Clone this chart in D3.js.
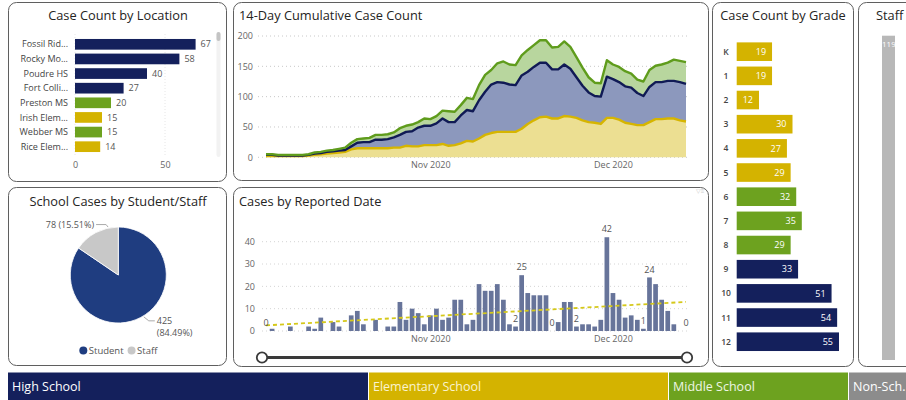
<!DOCTYPE html>
<html><head><meta charset="utf-8">
<script src="https://cdn.jsdelivr.net/npm/d3@7/dist/d3.min.js"></script>
<style>
body{margin:0;background:#fff;}
svg{display:block;font-family:"Open Sans","Noto Sans",sans-serif;}
</style></head><body>
<svg id="c" width="906" height="400"></svg>
<script>
// ---------------- DATA ----------------
const levels = ["High School", "Elementary School", "Middle School", "Non-Sch."];

const locations = ["Fossil Rid...", "Rocky Mo...", "Poudre HS", "Fort Colli...", "Preston MS", "Irish Elem...", "Webber MS", "Rice Elem..."];
const locationCounts = [67, 58, 40, 27, 20, 15, 15, 14];
const locationLevels = ["High School", "High School", "High School", "High School", "Middle School", "Elementary School", "Middle School", "Elementary School"];
const locationTicks = [0, 50];

const grades = ["K", "1", "2", "3", "4", "5", "6", "7", "8", "9", "10", "11", "12"];
const gradeCounts = [19, 19, 12, 30, 27, 29, 32, 35, 29, 33, 51, 54, 55];
const gradeLevels = ["Elementary School", "Elementary School", "Elementary School", "Elementary School", "Elementary School", "Elementary School",
  "Middle School", "Middle School", "Middle School", "High School", "High School", "High School", "High School"];

const staffTitle = "Staff";
const staffCount = 119;

const roles = ["Student", "Staff"];
const roleCounts = [425, 78];
const roleLabels = ["425|(84.49%)", "78 (15.51%)"];

const firstDay = "2020-10-05";
const dailyCases = [0, 1, 0, 0, 2, 0, 0, 2, 1, 6, 0, 4, 2, 0, 7, 9, 3, 0, 5, 0,
  2, 2, 13, 5, 10, 8, 3, 7, 10, 5, 6, 14, 14, 3, 5, 21, 18, 18, 21, 14,
  3, 2, 25, 17, 16, 16, 16, 0, 4, 13, 13, 2, 3, 3, 2, 5, 42, 17, 14, 6,
  7, 5, 1, 24, 21, 14, 9, 3, 0, 0];
const labeledDays = [0, 41, 42, 47, 51, 56, 62, 63, 69];
const dailyTicks = [0, 10, 20, 30, 40];

const cumElementary = [2, 2, 2, 2, 2, 2, 2, 3, 4, 5, 6, 7, 8, 9, 13, 15, 15, 15, 15, 15,
  15, 16, 16, 19, 18, 18, 20, 20, 20, 22, 19, 20, 23, 27, 26, 31, 37, 40, 42, 42,
  42, 42, 47, 55, 61, 66, 67, 64, 64, 68, 67, 65, 61, 58, 57, 55, 65, 65, 62, 57,
  55, 53, 53, 58, 63, 63, 64, 64, 61, 59];
const cumHigh = [2, 2, 1, 1, 1, 1, 1, 1, 2, 2, 3, 3, 3, 3, 5, 9, 10, 10, 14, 14,
  15, 17, 21, 23, 25, 31, 32, 32, 36, 42, 39, 38, 46, 51, 50, 63, 71, 80, 82, 81,
  78, 77, 88, 86, 88, 90, 89, 81, 81, 85, 79, 67, 57, 49, 44, 45, 68, 64, 62, 60,
  60, 53, 48, 58, 61, 61, 62, 62, 63, 62];
const cumMiddle = [1, 1, 1, 1, 1, 1, 1, 1, 2, 2, 2, 2, 3, 4, 6, 6, 6, 7, 8, 8,
  8, 8, 11, 10, 11, 9, 12, 11, 12, 13, 18, 17, 17, 20, 20, 25, 28, 24, 31, 35,
  33, 33, 33, 36, 36, 37, 37, 36, 37, 38, 36, 33, 30, 25, 22, 22, 27, 24, 25, 25,
  23, 22, 24, 28, 27, 29, 30, 35, 35, 36];
const cumTicks = [0, 50, 100, 150, 200];
const monthTicks = ["2020-11-01", "2020-12-01"];

// ---------------- STYLE ----------------
const levelColor = {"High School": "#14205c", "Elementary School": "#d4b300", "Middle School": "#6da21f", "Non-Sch.": "#8c8c8c"};
const svg = d3.select("#c");
const parse = d3.timeParse("%Y-%m-%d");
const days = dailyCases.map((_, i) => d3.timeDay.offset(parse(firstDay), i));
const TITLE = 12.8;

function panel(x, y, w, h) {
  svg.append("rect").attr("x", x + 0.5).attr("y", y + 0.5).attr("width", w).attr("height", h)
    .attr("rx", 8).attr("fill", "#fff").attr("stroke", "#5f5f5f").attr("stroke-width", 1);
}
function title(t, x, y, anchor) {
  svg.append("text").attr("x", x).attr("y", y).attr("text-anchor", anchor || "start")
    .attr("font-size", TITLE).attr("fill", "#252423").text(t);
}

// panels
panel(8, 2, 218, 179);
panel(233, 2, 475, 178);
panel(712, 2, 141, 364);
panel(858, 2, 60, 364);
panel(8, 187, 218, 178);
panel(233, 187, 475, 179);

// ---------------- Case Count by Location ----------------
title("Case Count by Location", 118, 20, "middle");
{
  const x = d3.scaleLinear().domain([0, 67]).range([75, 195.6]);
  const y = d3.scaleBand().domain(locations).range([37, 154]).paddingInner(0.27).paddingOuter(0.135);
  const g = svg.append("g");
  g.selectAll("line.grid").data(locationTicks).join("line")
    .attr("x1", d => x(d)).attr("x2", d => x(d)).attr("y1", 34).attr("y2", 156)
    .attr("stroke", "#e6e6e6").attr("stroke-dasharray", "1,2");
  g.selectAll("rect.bar").data(locations).join("rect")
    .attr("x", x(0)).attr("y", d => y(d)).attr("height", y.bandwidth())
    .attr("width", (d, i) => x(locationCounts[i]) - x(0))
    .attr("fill", (d, i) => levelColor[locationLevels[i]]);
  g.selectAll("text.cat").data(locations).join("text")
    .attr("x", 68).attr("y", d => y(d) + y.bandwidth() / 2).attr("dy", "0.35em")
    .attr("text-anchor", "end").attr("font-size", 9).attr("fill", "#444").text(d => d);
  g.selectAll("text.val").data(locations).join("text")
    .attr("x", (d, i) => x(locationCounts[i]) + 5).attr("y", d => y(d) + y.bandwidth() / 2).attr("dy", "0.35em")
    .attr("font-size", 9).attr("fill", "#555").text((d, i) => locationCounts[i]);
  const ax = g.append("g").attr("transform", "translate(0,162)")
    .call(d3.axisBottom(x).tickValues(locationTicks).tickSize(0).tickPadding(0));
  ax.select(".domain").remove();
  ax.selectAll("text").attr("font-size", 9).attr("fill", "#666").attr("font-family", "Open Sans");
  // scrollbar
  g.append("rect").attr("x", 216.5).attr("y", 32).attr("width", 4).attr("height", 125).attr("rx", 2).attr("fill", "#f2f2f2");
  g.append("rect").attr("x", 216.5).attr("y", 32).attr("width", 4).attr("height", 9).attr("rx", 2).attr("fill", "#c4c4c4");
}

// ---------------- 14-Day Cumulative ----------------
title("14-Day Cumulative Case Count", 239, 20);
{
  const x = d3.scaleTime().domain([days[0], days[days.length - 1]]).range([266, 686]);
  const y = d3.scaleLinear().domain([0, 200]).range([157.3, 36]);
  const g = svg.append("g");
  g.selectAll("line.grid").data(cumTicks).join("line")
    .attr("x1", 258).attr("x2", 690).attr("y1", d => y(d)).attr("y2", d => y(d))
    .attr("stroke", "#c8c8c8").attr("stroke-dasharray", "1,3");
  const ay = g.append("g").attr("transform", "translate(253,0)")
    .call(d3.axisLeft(y).tickValues(cumTicks).tickSize(0).tickPadding(0));
  ay.select(".domain").remove();
  ay.selectAll("text").attr("font-size", 9).attr("fill", "#666").attr("font-family", "Open Sans");
  const ax = g.append("g").attr("transform", "translate(0,162)")
    .call(d3.axisBottom(x).tickValues(monthTicks.map(parse)).tickFormat(d3.timeFormat("%b %Y")).tickSize(0).tickPadding(0));
  ax.select(".domain").remove();
  ax.selectAll("text").attr("font-size", 9).attr("fill", "#666").attr("font-family", "Open Sans");

  const rows = days.map((d, i) => ({date: d, elem: cumElementary[i], high: cumHigh[i], mid: cumMiddle[i]}));
  const keys = ["elem", "high", "mid"];
  const fills = {elem: "#ecdf92", high: "#8c98bd", mid: "#b8d69e"};
  const strokes = {elem: "#d6b500", high: "#101a55", mid: "#5f9c1c"};
  const series = d3.stack().keys(keys)(rows);
  const area = d3.area().x(d => x(d.data.date)).y0(d => y(d[0])).y1(d => y(d[1]));
  const line = d3.line().x(d => x(d.data.date)).y(d => y(d[1]));
  g.selectAll("path.area").data(series).join("path").attr("d", area).attr("fill", s => fills[s.key]);
  g.selectAll("path.line").data(series).join("path").attr("d", line).attr("fill", "none")
    .attr("stroke", s => strokes[s.key]).attr("stroke-width", 2.4).attr("stroke-linejoin", "round");
}

// ---------------- Case Count by Grade ----------------
title("Case Count by Grade", 783, 20, "middle");
{
  const x = d3.scaleLinear().domain([0, 55]).range([736.7, 839]);
  const y = d3.scaleBand().domain(grades).range([39.6, 353.8]).paddingInner(0.23).paddingOuter(0.115);
  const g = svg.append("g");
  g.selectAll("rect").data(grades).join("rect")
    .attr("x", x(0)).attr("y", d => y(d)).attr("height", y.bandwidth())
    .attr("width", (d, i) => x(gradeCounts[i]) - x(0))
    .attr("fill", (d, i) => levelColor[gradeLevels[i]]);
  g.selectAll("text.cat").data(grades).join("text")
    .attr("x", 726).attr("y", d => y(d) + y.bandwidth() / 2).attr("dy", "0.35em")
    .attr("text-anchor", "middle").attr("font-size", 8.5).attr("font-weight", 600).attr("fill", "#444").text(d => d);
  g.selectAll("text.val").data(grades).join("text")
    .attr("x", (d, i) => x(gradeCounts[i]) - 6).attr("y", d => y(d) + y.bandwidth() / 2).attr("dy", "0.35em")
    .attr("text-anchor", "end").attr("font-size", 9).attr("fill", "#fff").text((d, i) => gradeCounts[i]);
}

// ---------------- Staff ----------------
svg.append("text").attr("x", 876).attr("y", 20).attr("font-size", TITLE).attr("fill", "#252423").text(staffTitle);
{
  const y = d3.scaleLinear().domain([0, staffCount]).range([360, 35.7]);
  svg.append("rect").attr("x", 882).attr("y", y(staffCount)).attr("width", 13).attr("height", y(0) - y(staffCount)).attr("fill", "#b8b8b8");
  svg.append("text").attr("x", 882).attr("y", y(staffCount) + 11).attr("font-size", 8).attr("fill", "#fff").text(staffCount);
}

// ---------------- Pie ----------------
title("School Cases by Student/Staff", 118, 206, "middle");
{
  const cx = 118.3, cy = 275, r = 48;
  const pieColors = {"Student": "#1f3d80", "Staff": "#c8c8c8"};
  const arcs = d3.pie().sort(null).value(d => d.v)(roles.map((k, i) => ({k, v: roleCounts[i], lab: roleLabels[i]})));
  const arc = d3.arc().innerRadius(0).outerRadius(r);
  const g = svg.append("g").attr("transform", `translate(${cx},${cy})`);
  g.selectAll("path").data(arcs).join("path").attr("d", arc).attr("fill", d => pieColors[d.data.k])
    .attr("stroke", "#fff").attr("stroke-width", 0.8);
  arcs.forEach(a => {
    const right = (a.startAngle + a.endAngle) / 2 < Math.PI;
    const ang = right ? (a.startAngle + a.endAngle) / 2 - 0.06 : a.endAngle - 0.21;
    const p0 = [Math.sin(ang) * (r + 1), -Math.cos(ang) * (r + 1)];
    const p1 = right ? [p0[0] + 5, p0[1] + 4] : [p0[0] - 2, p0[1] - 2.5];
    const p2 = right ? [p1[0] + 6, p1[1]] : [p1[0] - 10, p1[1]];
    g.append("polyline").attr("points", [p0, p1, p2].map(p => p.join(",")).join(" "))
      .attr("fill", "none").attr("stroke", "#aaa").attr("stroke-width", 1);
    const parts = a.data.lab.split("|");
    const t = g.append("text").attr("x", right ? p2[0] + 2 : p2[0] - 2).attr("y", p2[1]).attr("dy", "0.35em")
      .attr("text-anchor", right ? "start" : "end").attr("font-size", 9).attr("fill", "#555");
    parts.forEach((p, j) => t.append("tspan").attr("x", right ? p2[0] + 2 : p2[0] - 2).attr("dy", j === 0 ? "0.35em" : "1.3em").text(p));
  });
  const lg = svg.append("g").attr("transform", "translate(0,350.5)");
  let lx = 83.3;
  roles.forEach((k, i) => {
    lg.append("circle").attr("cx", lx).attr("cy", 0).attr("r", 4).attr("fill", pieColors[k]);
    const t = lg.append("text").attr("x", lx + 5.5).attr("y", 0).attr("dy", "0.35em").attr("font-size", 9.5).attr("fill", "#555").text(k);
    lx += 5.5 + t.node().getComputedTextLength() + 8;
  });
}

// ---------------- Cases by Reported Date ----------------
title("Cases by Reported Date", 239, 206);
{
  const x = d3.scaleTime().domain([days[0], days[days.length - 1]]).range([266, 686]);
  const y = d3.scaleLinear().domain([0, 40]).range([331, 241.7]);
  const g = svg.append("g");
  g.selectAll("line.grid").data(dailyTicks).join("line")
    .attr("x1", 262).attr("x2", 690).attr("y1", d => y(d)).attr("y2", d => y(d))
    .attr("stroke", "#d4d4d4").attr("stroke-dasharray", "1,3");
  const ay = g.append("g").attr("transform", "translate(255,0)")
    .call(d3.axisLeft(y).tickValues(dailyTicks).tickSize(0).tickPadding(0));
  ay.select(".domain").remove();
  ay.selectAll("text").attr("font-size", 9).attr("fill", "#666").attr("font-family", "Open Sans");
  const ax = g.append("g").attr("transform", "translate(0,336)")
    .call(d3.axisBottom(x).tickValues(monthTicks.map(parse)).tickFormat(d3.timeFormat("%b %Y")).tickSize(0).tickPadding(0));
  ax.select(".domain").remove();
  ax.selectAll("text").attr("font-size", 9).attr("fill", "#666").attr("font-family", "Open Sans");
  const bw = 4.7;
  g.selectAll("rect").data(days).join("rect")
    .attr("x", d => x(d) - bw / 2).attr("width", bw)
    .attr("y", (d, i) => y(dailyCases[i])).attr("height", (d, i) => y(0) - y(dailyCases[i]))
    .attr("fill", "#67749a");
  // linear trend line (least squares over the daily values)
  const n = dailyCases.length, idx = d3.range(n);
  const mx = d3.mean(idx), my = d3.mean(dailyCases);
  const slope = d3.sum(idx, i => (i - mx) * (dailyCases[i] - my)) / d3.sum(idx, i => (i - mx) ** 2);
  const icpt = my - slope * mx;
  g.append("line").attr("x1", x(days[0])).attr("x2", x(days[n - 1]))
    .attr("y1", y(icpt)).attr("y2", y(icpt + slope * (n - 1)))
    .attr("stroke", "#d5c81a").attr("stroke-width", 1.8).attr("stroke-dasharray", "4,3");
  g.selectAll("text.lab").data(labeledDays).join("text")
    .attr("x", i => x(days[i])).attr("y", i => y(dailyCases[i]) - 8).attr("dy", "0.35em")
    .attr("text-anchor", "middle").attr("font-size", 9).attr("fill", "#555").text(i => dailyCases[i]);
  // range slider
  g.append("line").attr("x1", 262).attr("x2", 687).attr("y1", 357.5).attr("y2", 357.5).attr("stroke", "#3a3a3a").attr("stroke-width", 3);
  [262, 687].forEach(cx => g.append("circle").attr("cx", cx).attr("cy", 357.5).attr("r", 5.2)
    .attr("fill", "#fff").attr("stroke", "#3a3a3a").attr("stroke-width", 1.8));
  g.append("text").attr("x", 700).attr("y", 193).attr("font-size", 6).attr("fill", "#ccc").attr("text-anchor", "middle").text("▽≡");
}

// ---------------- Level legend strip ----------------
{
  const widths = [361, 300, 180, 70];
  let lx = 8;
  levels.forEach((k, i) => {
    svg.append("rect").attr("x", lx).attr("y", 372.5).attr("width", widths[i] - 1).attr("height", 28).attr("fill", levelColor[k]);
    svg.append("text").attr("x", lx + 4).attr("y", 386.5).attr("dy", "0.35em").attr("font-size", 12.5)
      .attr("fill", i === 1 ? "#fbf3cf" : (i === 2 ? "#eef6e4" : "#fff")).text(k);
    lx += widths[i];
  });
}
</script>
</body></html>
